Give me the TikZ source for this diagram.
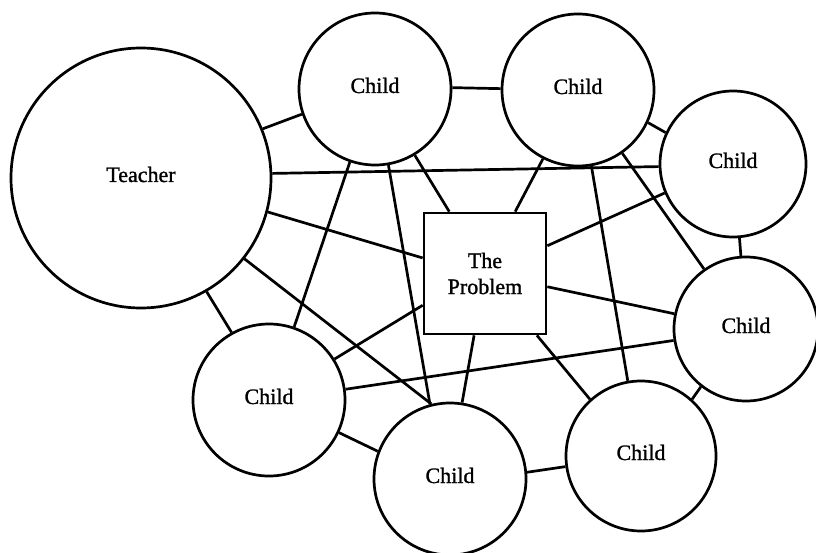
\documentclass[tikz,border=0pt]{standalone}
\usepackage{fontspec}
\setmainfont{Liberation Serif}
\newfontfamily\heavyserif[FakeBold=1.2]{Liberation Serif}
\begin{document}
\begin{tikzpicture}[x=1pt,y=-1pt,line width=2.7pt,
  label font/.style={font=\heavyserif\fontsize{22}{26}\selectfont},
  person/.style={circle,draw,inner sep=0pt,label font,text height=15pt,text depth=7pt},
  issue/.style={rectangle,draw,inner sep=0pt,minimum width=122pt,minimum height=121pt,
    align=center,label font},
  link/.style={line cap=butt}]
\useasboundingbox (0,0) rectangle (816,553);

% people
\node[person,minimum size=260pt] (T)  at (141,178) {Teacher};
\node[person,minimum size=152pt] (C1) at (375,89)  {Child};
\node[person,minimum size=152pt] (C2) at (578,90)  {Child};
\node[person,minimum size=146pt] (C3) at (733,164) {Child};
\node[person,minimum size=144pt] (C4) at (746,329) {Child};
\node[person,minimum size=150pt] (C5) at (641,456) {Child};
\node[person,minimum size=152pt] (C6) at (450,479) {Child};
\node[person,minimum size=152pt] (C7) at (269,400) {Child};

% the shared problem
\node[issue] (P) at (485,273.5) {The\\Problem};

% connections
\draw[link] (T.22)   -- (C1.199);
\draw[link] (T.2)    -- (C3.182);
\draw[link] (T.345)  -- (P.166);
\draw[link] (T.322)  -- (C6.104);
\draw[link] (T.300)  -- (C7.119);
\draw[link] (C1.1)   -- (C2.179);
\draw[link] (C1.251) -- (C7.71);
\draw[link] (C1.280) -- (C6.105);
\draw[link] (C1.301) -- (P.120);
\draw[link] (C2.243) -- (P.64);
\draw[link] (C2.335) -- (C3.155);
\draw[link] (C2.280) -- (C5.100);
\draw[link] (C2.305) -- (C4.125);
\draw[link] (C3.203) -- (P.24);
\draw[link] (C3.275) -- (C4.94);
\draw[link] (P.348)  -- (C4.168);
\draw[link] (C4.189) -- (C7.8);
\draw[link] (C4.232) -- (C5.48);
\draw[link] (P.310)  -- (C5.132);
\draw[link] (P.260)  -- (C6.81);
\draw[link] (P.207)  -- (C7.32);
\draw[link] (C5.188) -- (C6.5);
\draw[link] (C7.335) -- (C6.159);
\end{tikzpicture}
\end{document}
